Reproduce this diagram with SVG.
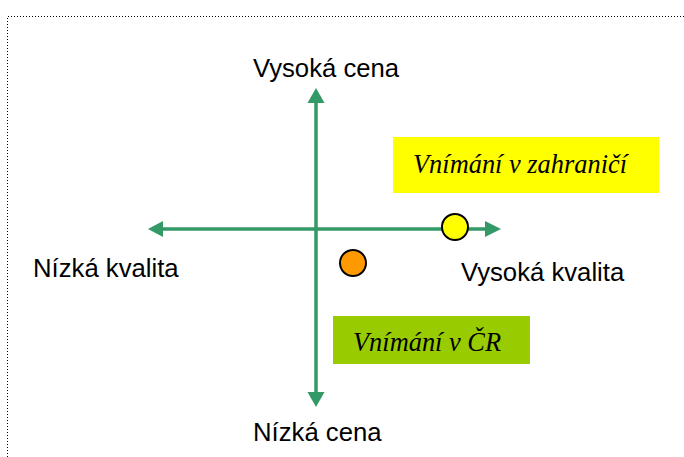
<svg xmlns="http://www.w3.org/2000/svg" width="684" height="457" viewBox="0 0 684 457">
<style>
.lbl{font-family:"Liberation Sans",Arial,sans-serif;font-size:25.7px;fill:#000}
.it{font-family:"Liberation Serif","Times New Roman",serif;font-style:italic;font-size:26.4px;fill:#000}
.axis{stroke:#339966;stroke-width:3.5;fill:none}
.head{fill:#339966}
.dot{stroke:#000;stroke-width:2}
</style>
<rect width="684" height="457" fill="#fff"/>
<path d="M7.5,457 V16.5 H684" fill="none" stroke="#000" stroke-width="1" stroke-dasharray="1,2"/>
<g id="connectors">
<line class="axis" x1="316" y1="102" x2="316" y2="393"/>
<line class="axis" x1="162" y1="229" x2="486" y2="229"/>
<polygon class="head" points="316,88 307.5,103 324.5,103"/>
<polygon class="head" points="316,407 307.5,392 324.5,392"/>
<polygon class="head" points="148,229 163,221 163,237"/>
<polygon class="head" points="501,229 485,221 485,237"/>
</g>
<g id="label-vysoka-cena"><text class="lbl" x="253" y="77">Vysoká cena</text></g>
<g id="label-nizka-cena"><text class="lbl" x="253" y="441">Nízká cena</text></g>
<g id="label-nizka-kvalita"><text class="lbl" x="33" y="277">Nízká kvalita</text></g>
<g id="label-vysoka-kvalita"><text class="lbl" x="461" y="281">Vysoká kvalita</text></g>
<g id="box-zahranici">
<rect x="393" y="137" width="266" height="56" fill="#ffff00"/>
<text class="it" x="413" y="173">Vnímání v zahraničí</text>
</g>
<g id="box-cr">
<rect x="333" y="316" width="197" height="48" fill="#99cc00"/>
<text class="it" x="353" y="351">Vnímání v ČR</text>
</g>
<g id="point-zahranici"><circle class="dot" cx="455" cy="227" r="13" fill="#ffff00"/></g>
<g id="point-cr"><circle class="dot" cx="353" cy="263" r="13" fill="#ff9900"/></g>
</svg>
